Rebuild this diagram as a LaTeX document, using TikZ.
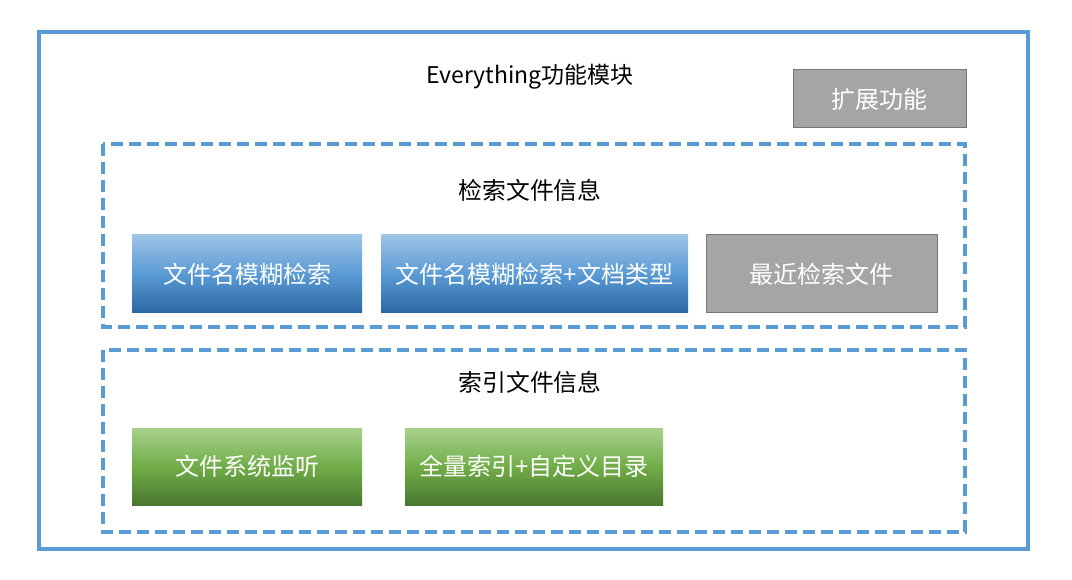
\documentclass[tikz,border=0pt]{standalone}
\usepackage{fontspec}
\setmainfont{Noto Sans CJK SC}
\begin{document}
\begin{tikzpicture}[x=1pt,y=-1pt,
  outerbox/.style={draw=frameblue,line width=3.5pt},
  groupbox/.style={draw=frameblue,line width=3.2pt,dash pattern=on 12pt off 6pt},
  label/.style={font=\fontsize{23.8}{27}\selectfont,text=black},
  boxtext/.style={font=\fontsize{24}{27}\selectfont,text=white},
  bluebox/.style={top color=blueTop,bottom color=blueBot,middle color=blueMid,draw=none},
  greenbox/.style={top color=greenTop,bottom color=greenBot,middle color=greenMid,draw=none},
  graybox/.style={fill=grayFill,draw=grayLine,line width=1pt},
]
\definecolor{frameblue}{HTML}{5B9BD5}
\definecolor{blueTop}{HTML}{9DC3E6}
\definecolor{blueMid}{HTML}{5B9BD5}
\definecolor{blueBot}{HTML}{2A66A3}
\definecolor{greenTop}{HTML}{A9D18E}
\definecolor{greenMid}{HTML}{70AD47}
\definecolor{greenBot}{HTML}{4A7730}
\definecolor{grayFill}{HTML}{A5A5A5}
\definecolor{grayLine}{HTML}{787878}
\useasboundingbox (0,0) rectangle (1072,580);
\fill[white] (0,0) rectangle (1072,580);
\draw[outerbox] (39,32) rectangle (1028,549);
\node[label,font=\fontsize{23}{27}\selectfont] (title) at (530,77) {Everything功能模块};
\draw[graybox] (793,70) rectangle (966,128);
\node[boxtext] (ext) at (879.5,99) {扩展功能};

\draw[groupbox] (103,144) rectangle (965,327);
\node[label] (search) at (530,190) {检索文件信息};
\shade[bluebox] (132,235) rectangle (362,313);
\node[boxtext] (b1) at (247,274) {文件名模糊检索};
\shade[bluebox] (381,235) rectangle (688,313);
\node[boxtext] (b2) at (534.5,274) {文件名模糊检索+文档类型};
\draw[graybox] (706,235) rectangle (937,313);
\node[boxtext] (b3) at (821.5,274) {最近检索文件};

\draw[groupbox] (103,350) rectangle (965,532);
\node[label] (index) at (530,382) {索引文件信息};
\shade[greenbox] (132,428) rectangle (362,505);
\node[boxtext] (g1) at (247,466.5) {文件系统监听};
\shade[greenbox] (405,428) rectangle (663,505);
\node[boxtext] (g2) at (534,466.5) {全量索引+自定义目录};
\end{tikzpicture}
\end{document}
